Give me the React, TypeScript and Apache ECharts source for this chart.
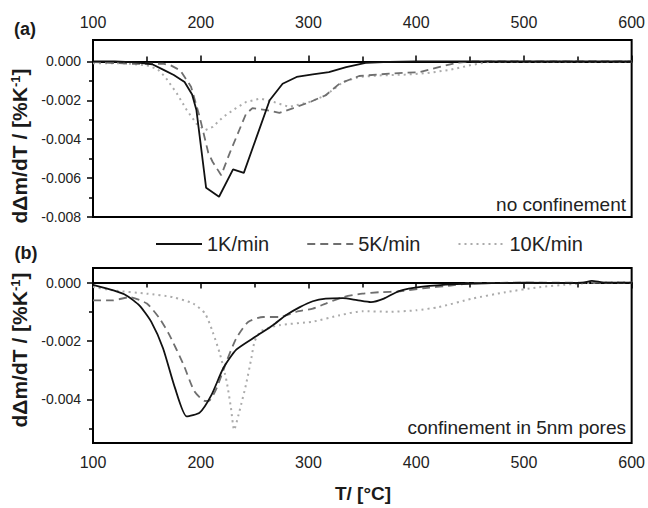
import React, { useEffect, useRef } from "react";
import * as echarts from "echarts";

const FONT = '"Liberation Sans", Arial, Helvetica, sans-serif';

const seriesNames = ["1K/min", "5K/min", "10K/min"];

// Temperature (°C) vs dΔm/dT in units of 10^-3 %K^-1
// (a) no confinement
const top1K: [number, number][] = [
  [100, 0], [120, 0], [140, -0.05], [155, -0.15], [166, -0.45], [175, -0.7],
  [185, -1.06], [192, -1.7], [196, -2.5], [205, -6.5], [217, -6.96], [230, -5.55],
  [240, -5.73], [264, -2.0], [276, -1.15], [289, -0.8], [304, -0.67], [319, -0.55],
  [335, -0.29], [353, -0.08], [375, -0.02], [400, 0], [600, 0],
];
const top5K: [number, number][] = [
  [100, -0.03], [134, -0.12], [165, -0.12], [172, -0.2], [181, -0.46], [191, -1.3],
  [199, -2.85], [207, -4.7], [211, -5.16], [219, -5.85], [227, -4.7], [236, -3.5],
  [242, -2.7], [248, -2.4], [261, -2.5], [273, -2.65], [286, -2.4], [301, -2.1],
  [316, -1.74], [329, -1.14], [347, -0.75], [375, -0.63], [403, -0.55], [421, -0.29],
  [437, -0.08], [450, 0], [600, 0],
];
const top10K: [number, number][] = [
  [100, -0.1], [130, -0.1], [150, -0.2], [160, -0.4], [167, -0.8], [178, -1.66],
  [187, -2.5], [196, -3.2], [204, -3.54], [211, -3.37], [221, -2.85], [232, -2.43],
  [242, -2.09], [255, -1.91], [268, -2.09], [282, -2.34], [301, -2.09], [316, -1.74],
  [332, -1.06], [347, -0.8], [366, -0.72], [390, -0.68], [410, -0.6], [430, -0.45],
  [450, -0.2], [470, 0], [600, 0],
];

// (b) confinement in 5nm pores
const bot1K: [number, number][] = [
  [100, -0.08], [119, -0.27], [131, -0.44], [143, -0.78], [154, -1.34], [165, -2.25],
  [176, -3.6], [187, -4.59], [199, -4.46], [210, -3.85], [221, -2.93], [233, -2.3],
  [251, -1.85], [267, -1.46], [279, -1.12], [292, -0.84], [304, -0.64], [316, -0.55],
  [332, -0.53], [345, -0.6], [358, -0.67], [370, -0.55], [384, -0.29], [406, -0.14],
  [436, -0.05], [470, -0.02], [500, 0], [540, -0.02], [555, 0], [563, 0.06],
  [575, 0], [600, 0],
];
const bot5K: [number, number][] = [
  [100, -0.61], [118, -0.61], [134, -0.5], [150, -0.72], [162, -1.24], [171, -1.8],
  [184, -2.81], [194, -3.72], [204, -4.06], [208, -4.05], [215, -3.6], [224, -2.7],
  [233, -1.91], [244, -1.35], [258, -1.18], [273, -1.18], [289, -1.0], [304, -0.89],
  [316, -0.72], [332, -0.5], [350, -0.38], [366, -0.33], [385, -0.3], [406, -0.2],
  [432, -0.1], [450, -0.03], [500, 0], [600, 0],
];
const bot10K: [number, number][] = [
  [100, -0.15], [119, -0.27], [150, -0.38], [174, -0.5], [193, -0.72], [204, -1.06],
  [211, -1.68], [218, -2.47], [224, -3.38], [228, -4.28], [231, -5.05], [236, -4.4],
  [242, -3.5], [247, -2.59], [250, -2.02], [256, -1.66], [273, -1.46], [304, -1.34],
  [329, -1.12], [350, -0.98], [375, -1.0], [400, -0.95], [421, -0.84], [452, -0.55],
  [483, -0.33], [514, -0.16], [545, -0.05], [570, 0], [600, 0],
];

const xMin = 100;
const xMax = 600;
const xStep = 100;
const yTicksTop = [-8, -6, -4, -2, 0];
const yMinorTop = [-7, -5, -3, -1];
const yTicksBot = [-4, -2, 0];
const yMinorBot = [-5, -3, -1];

const lineStyles = [
  { color: "#111111", width: 1.8, type: "solid" as any },
  { color: "#6f6f6f", width: 1.8, type: [8, 5] as any },
  { color: "#ababab", width: 2, type: [2, 4] as any },
];

const fmt = (v: number) => (v / 1000).toFixed(3);

function xAxisCfg(gridIndex: number, position: "top" | "bottom", margin: number) {
  return {
    gridIndex,
    type: "value",
    position,
    min: xMin,
    max: xMax,
    interval: xStep,
    axisLine: { show: true, lineStyle: { color: "#000", width: 2 } },
    axisTick: { show: true, inside: false, length: 6, lineStyle: { color: "#000", width: 1.5 } },
    minorTick: { show: true, splitNumber: 2, length: 5, lineStyle: { color: "#000", width: 1.5 } },
    axisLabel: { fontSize: 16, color: "#222", fontFamily: FONT, margin },
    splitLine: { show: false },
    minorSplitLine: { show: false },
  };
}

function yAxisMain(gridIndex: number, min: number, max: number, ticks: number[]) {
  return {
    gridIndex,
    type: "value",
    position: "left",
    min,
    max,
    axisLine: { show: true, onZero: false, lineStyle: { color: "#000", width: 2 } },
    axisTick: { show: true, inside: false, length: 6, customValues: ticks, lineStyle: { color: "#000", width: 1.5 } },
    axisLabel: { customValues: ticks, formatter: fmt, fontSize: 14, color: "#222", fontFamily: FONT, margin: 12 },
    splitLine: { show: false },
  };
}

function yAxisMinor(gridIndex: number, min: number, max: number, ticks: number[]) {
  return {
    gridIndex,
    type: "value",
    position: "left",
    min,
    max,
    axisLine: { show: false },
    axisTick: { show: true, inside: false, length: 4, customValues: ticks, lineStyle: { color: "#000", width: 1.5 } },
    axisLabel: { show: false },
    splitLine: { show: false },
  };
}

export default function App() {
  const ref = useRef<HTMLDivElement>(null);

  useEffect(() => {
    if (!ref.current) return;
    const chart = echarts.init(ref.current, undefined, { renderer: "svg" });

    const topData = [top1K, top5K, top10K];
    const botData = [bot1K, bot5K, bot10K];

    const series: any[] = [];
    for (let i = 2; i >= 0; i--) {
      series.push({
        type: "line",
        name: seriesNames[i],
        xAxisIndex: 0,
        yAxisIndex: 0,
        data: topData[i],
        symbol: "none",
        showSymbol: false,
        lineStyle: lineStyles[i],
        itemStyle: { color: lineStyles[i].color },
        z: 5 - i,
      });
      series.push({
        type: "line",
        name: seriesNames[i],
        xAxisIndex: 1,
        yAxisIndex: 2,
        data: botData[i],
        symbol: "none",
        showSymbol: false,
        smooth: 0.2,
        lineStyle: lineStyles[i],
        itemStyle: { color: lineStyles[i].color },
        z: 5 - i,
      });
    }

    const yName = "dΔm/dT / [%K{sup|-1}]";
    const yNameStyle = {
      text: yName,
      fontSize: 21,
      fontWeight: "bold",
      fontFamily: FONT,
      fill: "#1a1a1a",
      align: "center",
      verticalAlign: "middle",
      rich: {
        sup: { fontSize: 13, fontWeight: "bold", fontFamily: FONT, fill: "#1a1a1a", verticalAlign: "top" },
      },
    };

    chart.setOption({
      animation: false,
      backgroundColor: "#ffffff",
      grid: [
        { left: 93, top: 40, width: 540, height: 177, show: true, borderColor: "#000", borderWidth: 2, backgroundColor: "transparent" },
        { left: 93, top: 268, width: 540, height: 175, show: true, borderColor: "#000", borderWidth: 2, backgroundColor: "transparent" },
      ],
      xAxis: [xAxisCfg(0, "top", 10), xAxisCfg(1, "bottom", 11)],
      yAxis: [
        yAxisMain(0, -8, 1.1, yTicksTop),
        yAxisMinor(0, -8, 1.1, yMinorTop),
        yAxisMain(1, -5.5, 0.5, yTicksBot),
        yAxisMinor(1, -5.5, 0.5, yMinorBot),
      ],
      legend: {
        data: seriesNames,
        left: 150,
        top: 229,
        itemWidth: 46,
        itemHeight: 14,
        itemGap: 37,
        itemStyle: { opacity: 0, borderWidth: 0 },
        textStyle: { fontSize: 20, color: "#222", fontFamily: FONT },
      },
      graphic: [
        { type: "text", x: 25, y: 29, style: { text: "(a)", fontSize: 18, fontWeight: "bold", fontFamily: FONT, fill: "#1a1a1a", align: "center", verticalAlign: "middle" } },
        { type: "text", x: 26, y: 253, style: { text: "(b)", fontSize: 18, fontWeight: "bold", fontFamily: FONT, fill: "#1a1a1a", align: "center", verticalAlign: "middle" } },
        { type: "text", x: 19, y: 146, rotation: Math.PI / 2, style: yNameStyle },
        { type: "text", x: 19, y: 350, rotation: Math.PI / 2, style: yNameStyle },
        { type: "text", x: 626, y: 204, style: { text: "no confinement", fontSize: 19, fontFamily: FONT, fill: "#222", align: "right", verticalAlign: "middle" } },
        { type: "text", x: 626, y: 427, style: { text: "confinement in 5nm pores", fontSize: 19, fontFamily: FONT, fill: "#222", align: "right", verticalAlign: "middle" } },
        { type: "text", x: 363, y: 493, style: { text: "T/ [°C]", fontSize: 19, fontWeight: "bold", fontFamily: FONT, fill: "#1a1a1a", align: "center", verticalAlign: "middle" } },
      ],
      series,
    });

    return () => {
      chart.dispose();
    };
  }, []);

  return (
    <div
      ref={ref}
      style={{ position: "fixed", left: 0, top: 0, width: 648, height: 508, background: "#fff" }}
    />
  );
}
